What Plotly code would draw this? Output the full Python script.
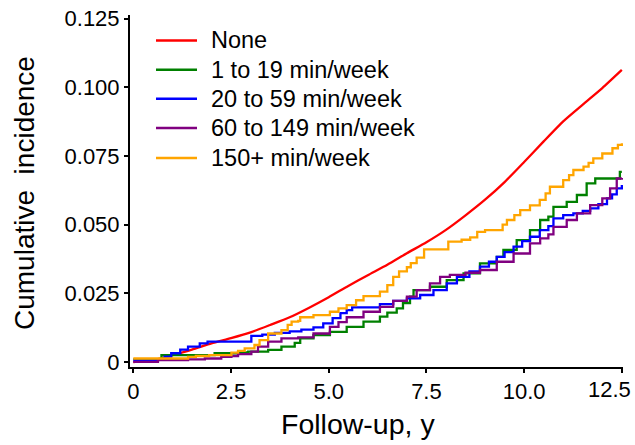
import plotly.graph_objects as go

# ---- data ----
none_t = [0, 0.5, 1.0, 1.5, 2.0, 2.5, 3.0, 3.5, 4.0, 4.5, 5.0, 5.5, 6.0, 6.5, 7.0, 7.5,
          8.0, 8.5, 9.0, 9.5, 10.0, 10.5, 11.0, 11.5, 12.0, 12.5]
none_v = [0, 0.0007, 0.0025, 0.0045, 0.0068, 0.0087, 0.0108, 0.0135, 0.0163, 0.0198,
          0.0236, 0.0277, 0.0316, 0.0354, 0.0396, 0.0436, 0.0481, 0.0534, 0.0591,
          0.0655, 0.0728, 0.0803, 0.0876, 0.0937, 0.0997, 0.1063]

g1_t = [0, 0.72, 2.08, 2.68, 2.94, 3.45, 3.79, 4.13, 4.27, 4.61, 5.03, 5.46, 5.89, 6.31,
        6.5, 6.74, 6.9, 7.08, 7.17, 7.59, 8.02, 8.45, 8.87, 9.3, 9.47, 9.81, 10.15,
        10.41, 10.62, 10.75, 11.09, 11.35, 11.6, 11.82, 12.37, 12.45, 12.5]
g1_v = [0.001, 0.0025, 0.0032, 0.0035, 0.0038, 0.0044, 0.0056, 0.007, 0.0086, 0.0098,
        0.011, 0.0128, 0.0147, 0.0165, 0.018, 0.0195, 0.0215, 0.0238, 0.0262, 0.0274,
        0.0298, 0.0323, 0.0359, 0.0383, 0.0408, 0.0444, 0.048, 0.0517, 0.0529, 0.0565,
        0.0583, 0.0608, 0.065, 0.0668, 0.0668, 0.0692, 0.0692]

g2_t = [0, 0.63, 0.8, 0.97, 1.2, 1.4, 1.7, 1.9, 3.02, 3.3, 3.62, 4.0, 4.3, 4.61, 4.86,
        5.1, 5.3, 5.46, 5.6, 6.31, 6.65, 7.0, 7.34, 7.68, 8.02, 8.28, 8.6, 8.87, 9.1,
        9.3, 9.5, 9.73, 9.95, 10.15, 10.4, 10.62, 10.75, 11.0, 11.26, 11.5, 11.69,
        11.9, 12.12, 12.25, 12.37, 12.5]
g2_v = [0.0005, 0.001, 0.002, 0.0032, 0.0045, 0.0056, 0.0068, 0.0074, 0.0095, 0.0100,
        0.0106, 0.0112, 0.0118, 0.0126, 0.0141, 0.016, 0.0178, 0.0189, 0.0199, 0.0211,
        0.0223, 0.0232, 0.0244, 0.0262, 0.0286, 0.031, 0.033, 0.0347, 0.0365, 0.0383,
        0.040, 0.042, 0.044, 0.0456, 0.048, 0.0495, 0.0523, 0.0535, 0.0541, 0.055,
        0.0559, 0.0575, 0.0596, 0.061, 0.0632, 0.0644]

g3_t = [0, 0.63, 1.4, 1.83, 2.25, 2.51, 2.68, 3.02, 3.19, 3.45, 3.79, 4.22, 4.61, 5.03,
        5.25, 5.46, 5.89, 6.31, 6.65, 7.0, 7.25, 7.59, 7.85, 8.1, 8.5, 8.87, 9.3, 9.73,
        10.15, 10.41, 10.62, 10.75, 11.09, 11.35, 11.69, 12.0, 12.2, 12.37, 12.5]
g3_v = [0.0001, 0.0007, 0.001, 0.0013, 0.0019, 0.0022, 0.0029, 0.0038, 0.0056, 0.0074,
        0.0086, 0.009, 0.0104, 0.0128, 0.0145, 0.0163, 0.0183, 0.0201, 0.0223, 0.0238,
        0.0262, 0.0286, 0.031, 0.0317, 0.0325, 0.0335, 0.0365, 0.0395, 0.0432, 0.045,
        0.0465, 0.0492, 0.0517, 0.0541, 0.0571, 0.0596, 0.0632, 0.0668, 0.067]

g4_t = [0, 1.4, 1.6, 1.94, 2.51, 2.68, 2.85, 3.1, 3.23, 3.45, 3.79, 3.95, 4.05, 4.22,
        4.27, 4.61, 5.03, 5.25, 5.46, 5.7, 5.89, 6.31, 6.5, 6.65, 6.8, 7.0, 7.1, 7.25,
        7.44, 8.06, 8.4, 8.62, 8.8, 9.0, 9.45, 9.56, 9.75, 9.9, 10.15, 10.4, 10.55,
        10.66, 11.0, 11.15, 11.26, 11.52, 11.65, 11.77, 12.0, 12.26, 12.4, 12.5]
g4_v = [0.0013, 0.0019, 0.0022, 0.0025, 0.0034, 0.0041, 0.005, 0.0062, 0.008, 0.0104,
        0.0116, 0.0135, 0.0147, 0.015, 0.0163, 0.0171, 0.0183, 0.0195, 0.0207, 0.0225,
        0.024, 0.0256, 0.028, 0.031, 0.033, 0.0345, 0.036, 0.038, 0.041, 0.0438,
        0.0445, 0.0454, 0.0474, 0.048, 0.0500, 0.0517, 0.0535, 0.0553, 0.057, 0.0590,
        0.0614, 0.0638, 0.0662, 0.068, 0.0699, 0.0711, 0.0725, 0.0741, 0.0759, 0.0778,
        0.079, 0.0796]

series_names = ["None", "1 to 19 min/week", "20 to 59 min/week",
                "60 to 149 min/week", "150+ min/week"]
series_colors = ["#FF0000", "#008000", "#0000FF", "#800080", "#FFA500"]

x_tickvals = [0, 2.5, 5.0, 7.5, 10.0, 12.5]
x_ticktext = ["0", "2.5", "5.0", "7.5", "10.0", "12.5"]
y_tickvals = [0, 0.025, 0.05, 0.075, 0.1, 0.125]
y_ticktext = ["0", "0.025", "0.050", "0.075", "0.100", "0.125"]

FONT = "Liberation Sans, Arial, sans-serif"
TICK_SIZE = 22
W, H = 635, 445
ML, MR, MT, MB = 130, 12, 15, 78
PW, PH = W - ML - MR, H - MT - MB


def px_to_paper_x(px):
    return (px - ML) / PW


def px_to_paper_y(py):
    return (H - MB - py) / PH


fig = go.Figure()
data = [(none_t, none_v, "spline"), (g1_t, g1_v, "hv"), (g2_t, g2_v, "hv"),
        (g3_t, g3_v, "hv"), (g4_t, g4_v, "hv")]
for (t, v, shape), name, col in zip(data, series_names, series_colors):
    line = dict(color=col, width=2.3, shape=shape)
    if shape == "spline":
        line["smoothing"] = 0.6
    fig.add_trace(go.Scatter(x=t, y=v, mode="lines", name=name, line=line,
                             showlegend=False))

# legend drawn as line samples + text labels
legend_rows_y = [40.5, 69.8, 98.8, 128.0, 158.0]
shapes = []
annotations = []
for name, col, ry in zip(series_names, series_colors, legend_rows_y):
    yp = px_to_paper_y(ry)
    shapes.append(dict(type="line", xref="paper", yref="paper",
                       x0=px_to_paper_x(156), x1=px_to_paper_x(197), y0=yp, y1=yp,
                       line=dict(color=col, width=2.5)))
    annotations.append(dict(text=name, xref="paper", yref="paper",
                            x=px_to_paper_x(209), y=yp, xanchor="left",
                            yanchor="middle", showarrow=False,
                            font=dict(size=23.5, family=FONT)))

# the last x tick label sits left of its tick (kept inside the figure)
shown_xtext = x_ticktext[:-1] + [""]
annotations += [
    dict(text=x_ticktext[-1], xref="x", yref="paper", x=x_tickvals[-1], y=0,
         xanchor="right", yanchor="top", xshift=11, yshift=-8, showarrow=False,
         font=dict(size=TICK_SIZE, family=FONT)),
    dict(text="Follow-up, y", xref="paper", yref="paper", x=px_to_paper_x(358),
         y=px_to_paper_y(424), xanchor="center", yanchor="middle", showarrow=False,
         font=dict(size=28.5, family=FONT)),
    dict(text="Cumulative  incidence", xref="paper", yref="paper",
         x=px_to_paper_x(25), y=px_to_paper_y(193), xanchor="center",
         yanchor="middle", textangle=-90, showarrow=False,
         font=dict(size=28, family=FONT)),
]

fig.update_layout(
    width=W, height=H,
    margin=dict(l=ML, r=MR, t=MT, b=MB, autoexpand=False),
    paper_bgcolor="white", plot_bgcolor="white",
    font=dict(family=FONT, color="black"),
    showlegend=False,
    xaxis=dict(range=[-0.085, 12.53], tickvals=x_tickvals, ticktext=shown_xtext,
               showgrid=False, zeroline=False, showline=True, linecolor="black",
               linewidth=2, ticks="outside", ticklen=4, tickwidth=1.5,
               tickcolor="black", tickfont=dict(size=TICK_SIZE, family=FONT),
               automargin=False),
    yaxis=dict(range=[-0.0018, 0.1263], tickvals=y_tickvals, ticktext=y_ticktext,
               showgrid=False, zeroline=False, showline=True, linecolor="black",
               linewidth=2, ticks="outside", ticklen=4, tickwidth=1.5,
               tickcolor="black", tickfont=dict(size=TICK_SIZE, family=FONT),
               automargin=False),
    shapes=shapes,
    annotations=annotations,
)

fig.write_html("out.html", config={"displayModeBar": False},
               post_script="document.body.style.margin='0';document.body.style.padding='0';")
